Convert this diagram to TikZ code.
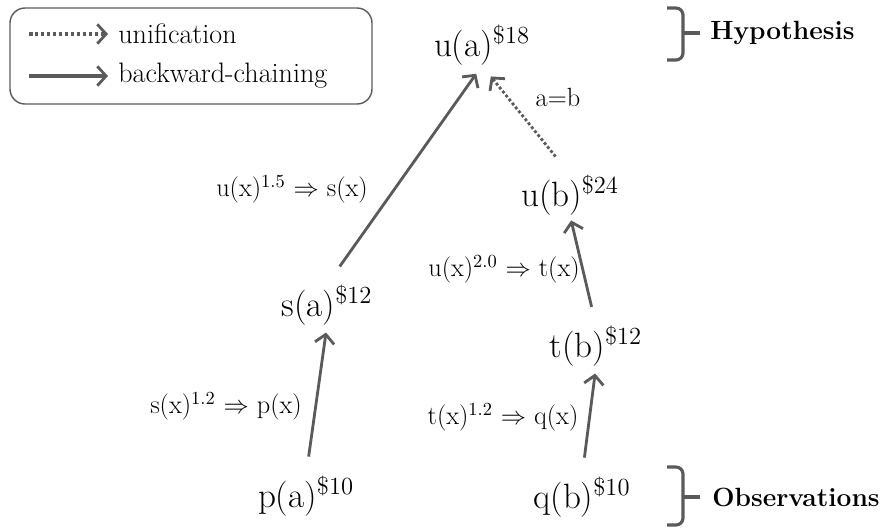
\documentclass[tikz,border=0pt]{standalone}
\usepackage{amsmath}
\usepackage{xcolor}
\usetikzlibrary{arrows.meta,positioning}
\definecolor{inkgray}{RGB}{90,90,90}
\newcommand{\cost}[1]{\textsuperscript{\$#1}}

\begin{document}
\begin{tikzpicture}[x=0.02cm,y=-0.02cm,
  atom/.style={font=\fontsize{20}{22}\selectfont,inner sep=0pt},
  rulelab/.style={font=\fontsize{15}{17}\selectfont,inner sep=0pt},
  legtext/.style={font=\fontsize{16}{18}\selectfont,anchor=west,inner sep=0pt},
  tierlab/.style={font=\fontsize{15}{17}\selectfont\bfseries,anchor=west,inner sep=0pt},
  chain/.style={draw=inkgray,line width=1.6pt,-{Straight Barb[length=5pt,width=11pt,line width=1.6pt]},shorten <=0.38cm,shorten >=0.14cm},
  unify/.style={chain,dash pattern=on 1.6pt off 1.3pt},
  bracket/.style={draw=inkgray,line width=1.8pt,rounded corners=4pt}]
 \useasboundingbox (0,0) rectangle (896,529);
 % legend
 \draw[rounded corners=0.3cm,draw=inkgray,line width=0.8pt] (10,8) rectangle (372,104);
 \node[legtext] (uniTxt) at (118,34) {unification};
 \node[legtext] (bcTxt) at (118,76) {backward-chaining};
 \coordinate (uniStart) at (29,34);
 \coordinate (bcStart) at (29,76);
 \draw[unify,line width=2pt,dash pattern=on 2pt off 1.4pt,shorten <=0pt,shorten >=0.2cm] (uniStart) -- (uniTxt.west);
 \draw[chain,line width=2pt,shorten <=0pt,shorten >=0.2cm] (bcStart) -- (bcTxt.west);
 % atoms
 \node[atom] (ua) at (482,45) {u(a)\cost{18}};
 \node[atom] (ub) at (570,195) {u(b)\cost{24}};
 \node[atom] (sa) at (327,305) {s(a)\cost{12}};
 \node[atom] (tb) at (596,346) {t(b)\cost{12}};
 \node[atom] (pa) at (306,496) {p(a)\cost{10}};
 \node[atom] (qb) at (582,497) {q(b)\cost{10}};
 % rules
 \node[rulelab] (ruleUS) at (292,189) {u(x)\textsuperscript{1.5} $\Rightarrow$ s(x)};
 \node[rulelab] (ruleUT) at (504,269) {u(x)\textsuperscript{2.0} $\Rightarrow$ t(x)};
 \node[rulelab] (ruleSP) at (226,406) {s(x)\textsuperscript{1.2} $\Rightarrow$ p(x)};
 \node[rulelab] (ruleTQ) at (503,417) {t(x)\textsuperscript{1.2} $\Rightarrow$ q(x)};
 \node[rulelab] (eqAB) at (558,97) {a=b};
 % connectors
 \draw[chain] (pa.north) -- (sa.south);
 \draw[chain,shorten <=0.44cm,shorten >=0.2cm] (sa.north) -- (ua.south);
 \draw[chain] (qb.north) -- (tb.south);
 \draw[chain,shorten >=0.1cm] (tb.north) -- (ub.south);
 \draw[unify,shorten <=0.46cm,shorten >=0.28cm] (ub.north) -- (ua.south);
 % levels
 \node[tierlab] (hypTxt) at (710,33) {Hypothesis};
 \node[tierlab] (obsTxt) at (712,497) {Observations};
 \draw[bracket] (667,8) -- (683,8) -- (683,60) -- (667,60);
 \draw[bracket] (683,33) -- ([xshift=-0.2cm]hypTxt.west);
 \draw[bracket] (667,467) -- (683,467) -- (683,525) -- (667,525);
 \draw[bracket] (683,497) -- ([xshift=-0.24cm]obsTxt.west);
\end{tikzpicture}
\end{document}
